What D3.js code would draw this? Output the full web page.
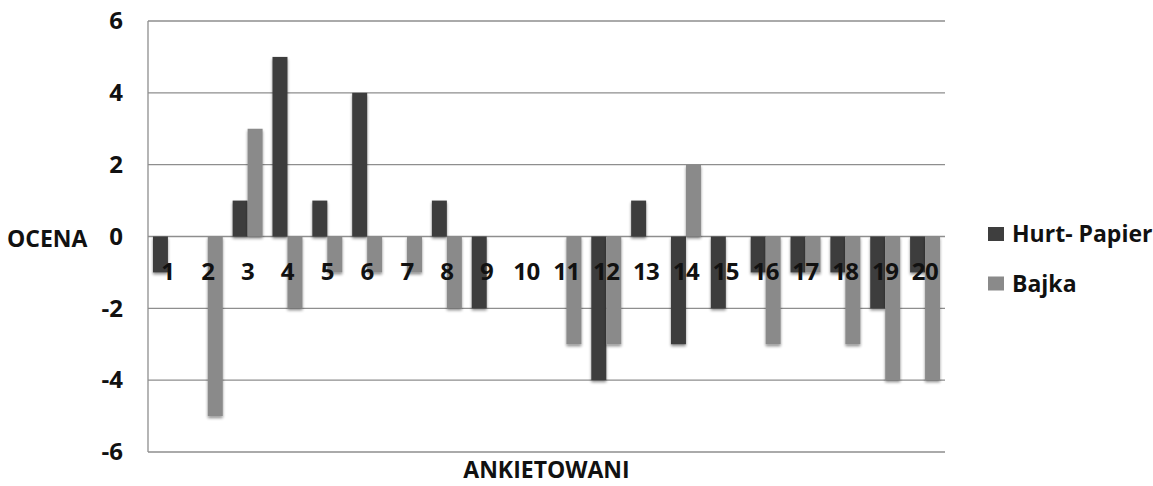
<!DOCTYPE html>
<html>
<head>
<meta charset="utf-8">
<script src="https://cdn.jsdelivr.net/npm/d3@7"></script>
<style>
  html, body { margin: 0; padding: 0; background: #fff; }
  svg { display: block; }
  text { font-family: "Open Sans", "Lato", sans-serif; font-weight: bold; fill: #111; }
</style>
</head>
<body>
<svg id="chart" width="1153" height="486"></svg>
<script>
const categories = ["1","2","3","4","5","6","7","8","9","10","11","12","13","14","15","16","17","18","19","20"];
const hurtPapier = [-1, 0, 1, 5, 1, 4, 0, 1, -2, 0, 0, -4, 1, -3, -2, -1, -1, -1, -2, -1];
const bajka      = [0, -5, 3, -2, -1, -1, -1, -2, 0, 0, -3, -3, 0, 2, 0, -3, -1, -3, -4, -4];
const seriesNames = ["Hurt- Papier", "Bajka"];
const yTicks = [-6, -4, -2, 0, 2, 4, 6];

const colors = ["#3e3e3e", "#8a8a8a"];
const svg = d3.select("#chart");
const mL = 148, mR = 945, mT = 21, mB = 452;

const defs = svg.append("defs");
const f = defs.append("filter").attr("id", "shadow").attr("x", "-40%").attr("y", "-10%").attr("width", "180%").attr("height", "130%");
f.append("feGaussianBlur").attr("in", "SourceAlpha").attr("stdDeviation", 1.6).attr("result", "b");
f.append("feOffset").attr("in", "b").attr("dx", 0).attr("dy", 1.5).attr("result", "o");
f.append("feComponentTransfer").attr("in", "o").attr("result", "s")
  .append("feFuncA").attr("type", "linear").attr("slope", 0.45);
const m = f.append("feMerge");
m.append("feMergeNode").attr("in", "s");
m.append("feMergeNode").attr("in", "SourceGraphic");

const x = d3.scaleBand().domain(categories).range([mL, mR]).paddingInner(0).paddingOuter(0);
const xs = d3.scaleBand().domain(seriesNames).range([0, x.bandwidth()]).paddingInner(0).paddingOuter(0.33);
const y = d3.scaleLinear().domain([-6, 6]).range([mB, mT]);

// gridlines
svg.append("g").selectAll("line").data(yTicks).join("line")
  .attr("x1", mL).attr("x2", mR)
  .attr("y1", d => y(d)).attr("y2", d => y(d))
  .attr("stroke", "#8e8e8e").attr("stroke-width", 1.3);

// y axis line
svg.append("line").attr("x1", mL).attr("x2", mL).attr("y1", mT).attr("y2", mB)
  .attr("stroke", "#8e8e8e").attr("stroke-width", 1.3);

// y tick labels
const yAxis = d3.axisLeft(y).tickValues(yTicks).tickSize(0).tickPadding(25).tickFormat(d => String(d));
const ga = svg.append("g").attr("transform", `translate(${mL},0)`).call(yAxis);
ga.select(".domain").remove();
ga.selectAll("text").attr("font-size", 24).attr("font-family", null).attr("fill", "#111")
  .style("font-family", "'Open Sans', sans-serif").style("font-weight", "bold");

// bars
const data = categories.map((c, i) => ({ c, vals: [hurtPapier[i], bajka[i]] }));
const groups = svg.append("g").selectAll("g").data(data).join("g")
  .attr("transform", d => `translate(${x(d.c)},0)`);
groups.selectAll("rect").data(d => d.vals.map((v, j) => ({ v, s: seriesNames[j], j })).filter(d => d.v !== 0)).join("rect")
  .attr("x", d => xs(d.s))
  .attr("width", xs.bandwidth())
  .attr("y", d => y(Math.max(0, d.v)))
  .attr("height", d => Math.abs(y(d.v) - y(0)))
  .attr("fill", d => colors[d.j])
  .attr("filter", "url(#shadow)");

// category labels
svg.append("g").selectAll("text").data(categories).join("text")
  .attr("x", d => x(d) + x.bandwidth() / 2)
  .attr("y", y(0) + 43)
  .attr("text-anchor", "middle")
  .attr("font-size", 24)
  .attr("letter-spacing", -0.5)
  .text(d => d);

// axis titles
svg.append("text").attr("x", 7).attr("y", 247).attr("font-size", 23).text("OCENA");
svg.append("text").attr("x", (mL + mR) / 2).attr("y", 478).attr("text-anchor", "middle")
  .attr("font-size", 23).text("ANKIETOWANI");

// legend
const lg = svg.append("g").selectAll("g").data(seriesNames).join("g")
  .attr("transform", (d, i) => `translate(988,${227 + i * 49.5})`);
lg.append("rect").attr("width", 16).attr("height", 14).attr("fill", (d, i) => colors[i]);
lg.append("text").attr("x", 24).attr("y", 15).attr("font-size", 23).text(d => d);
</script>
</body>
</html>
